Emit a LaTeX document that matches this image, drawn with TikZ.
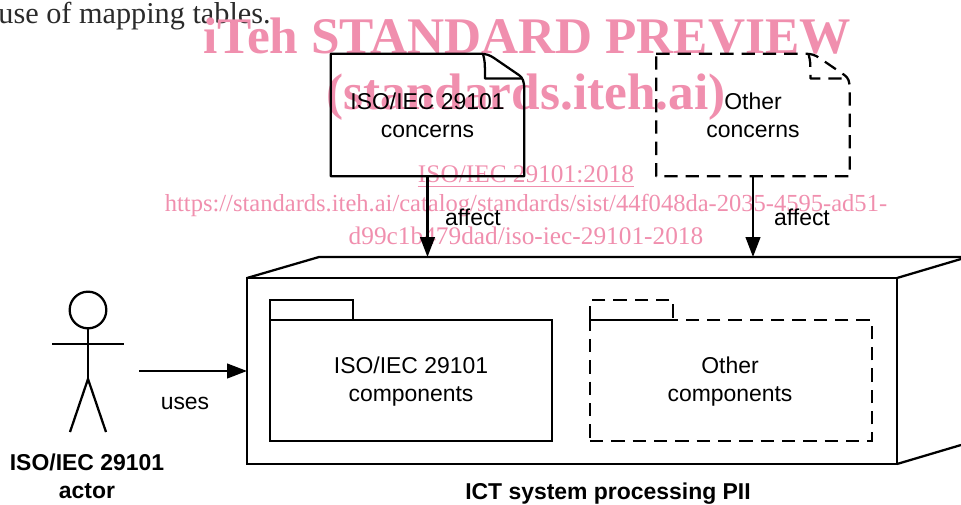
\documentclass[tikz,border=0pt]{standalone}
\usepackage{xcolor}
\usepackage{fontspec}
\setmainfont{Liberation Serif}
\setsansfont{Liberation Sans}
\usetikzlibrary{arrows.meta,positioning}
\definecolor{wmpink}{HTML}{F08FAE}
\definecolor{bodytext}{HTML}{2B2B2B}
\tikzset{
  line/.style={line width=1.7pt},
  dashline/.style={line, dash pattern=on 10pt off 6pt},
  flow/.style={line, -{Triangle[length=15pt,width=11pt]}},
  lbl/.style={font=\sffamily\fontsize{17.2}{21}\selectfont, align=center, inner sep=0pt},
  title/.style={font=\sffamily\bfseries\fontsize{17.2}{21}\selectfont, align=center, inner sep=0pt},
  wmbig/.style={text=wmpink, font=\bfseries\fontsize{38.5}{38}\selectfont, inner sep=0pt},
  wmlink/.style={text=wmpink, font=\fontsize{19}{19}\selectfont, inner sep=0pt},
  docbox/.style={lbl, minimum width=144.75pt, minimum height=91.5pt},
  pkgbox/.style={lbl, draw, outer sep=0pt, minimum width=211.5pt, minimum height=90.75pt},
  pkgtab/.style={draw, inner sep=0pt, outer sep=0pt, minimum width=62.25pt, minimum height=15pt, anchor=south west},
}
\newcommand{\docoutline}[2]{
  \draw[#2, line join=round] (#1.north west) -- ([xshift=-33pt]#1.north east)
    .. controls ([xshift=-29pt]#1.north east) and ([xshift=-26pt,yshift=-1pt]#1.north east) .. ([xshift=-23pt,yshift=-3pt]#1.north east)
    -- ([xshift=-4pt,yshift=-16pt]#1.north east)
    .. controls ([xshift=-1pt,yshift=-18pt]#1.north east) and ([yshift=-21pt]#1.north east) .. ([yshift=-27pt]#1.north east)
    -- (#1.south east) -- (#1.south west) -- cycle;
  \draw[#2, line join=round] ([xshift=-31pt]#1.north east) .. controls ([xshift=-29.5pt,yshift=-6pt]#1.north east) .. ([xshift=-29.5pt,yshift=-18.5pt]#1.north east)
    -- ([xshift=-2pt,yshift=-18.5pt]#1.north east);
}
\begin{document}
\begin{tikzpicture}[x=0.75pt,y=-0.75pt]
  \useasboundingbox (0,0) rectangle (961,504);

  \node[anchor=east, inner sep=0pt, text=bodytext, font=\fontsize{22.7}{22}\selectfont] (tablesline) at (271,16) {use of mapping tables.};

  \node[wmbig] (wm1) at (527,36) {iTeh STANDARD PREVIEW};
  \node[wmbig] (wm2) at (526,97) {(standards.iteh.ai)};
  \node[wmlink] (wm3) at (526,174) {ISO/IEC 29101:2018};
  \draw[wmpink, line width=1pt] ([yshift=-3pt]wm3.base west) -- ([yshift=-3pt]wm3.base east);
  \node[wmlink, font=\fontsize{18.4}{19}\selectfont] (wm4) at (526,206) {https://standards.iteh.ai/catalog/standards/sist/44f048da-2035-4595-ad51-};
  \node[wmlink] (wm5) at (526,236) {d99c1b479dad/iso-iec-29101-2018};

  \node[docbox] (isodoc) at (427.5,115) {ISO/IEC 29101\\concerns};
  \node[docbox] (otherdoc) at (753,115) {Other\\concerns};
  \docoutline{isodoc}{line}
  \docoutline{otherdoc}{dashline}

  \node[lbl, draw, line, outer sep=0pt, minimum width=487.5pt, minimum height=139.5pt] (sys) at (572,371) {};
  \coordinate (backleft) at (319,257);
  \coordinate (backright) at (961,257);
  \coordinate (sideup) at (961,259);
  \coordinate (sidedown) at (961,445);
  \draw[line] (sys.north west) -- (backleft) -- (backright);
  \draw[line] (sys.north east) -- (sideup);
  \draw[line] (sys.south east) -- (sidedown);

  \node[pkgbox, line] (isopkg) at (411,380.5) {};
  \node[lbl] (isopkgtext) at (411,382) {ISO/IEC 29101\\components};
  \node[pkgtab, line] (isotab) at (isopkg.north west) {};
  \node[pkgbox, dashline] (otherpkg) at (731,380.5) {};
  \node[lbl] (otherpkgtext) at (730,382) {Other\\components};
  \node[pkgtab, dashline] (othertab) at (otherpkg.north west) {};

  \coordinate (isoin) at (isodoc.south |- backleft);
  \coordinate (otherin) at (otherdoc.south |- backleft);
  \draw[flow] (isodoc.south) -- (isoin);
  \draw[flow] (otherdoc.south) -- (otherin);
  \node[lbl] (affect1) at (473,217) {affect};
  \node[lbl] (affect2) at (802,217) {affect};

  \node[draw, line, circle, inner sep=0pt, outer sep=0pt, minimum size=27.5pt] (head) at (88,310) {};
  \coordinate (hip) at (88,379);
  \coordinate (armleft) at (52,344);
  \coordinate (armright) at (124,344);
  \coordinate (footleft) at (70,432);
  \coordinate (footright) at (106,432);
  \draw[line] (head.south) -- (hip);
  \draw[line] (armleft) -- (armright);
  \draw[line] (footleft) -- (hip) -- (footright);

  \coordinate (actorout) at (139,371);
  \draw[flow] (actorout) -- (sys.west |- actorout);
  \node[lbl] (uses) at (185,403) {uses};
  \node[title] (actor) at (87,476) {ISO/IEC 29101\\actor};
  \node[title] (systitle) at (608,494) {ICT system processing PII};
\end{tikzpicture}
\end{document}
